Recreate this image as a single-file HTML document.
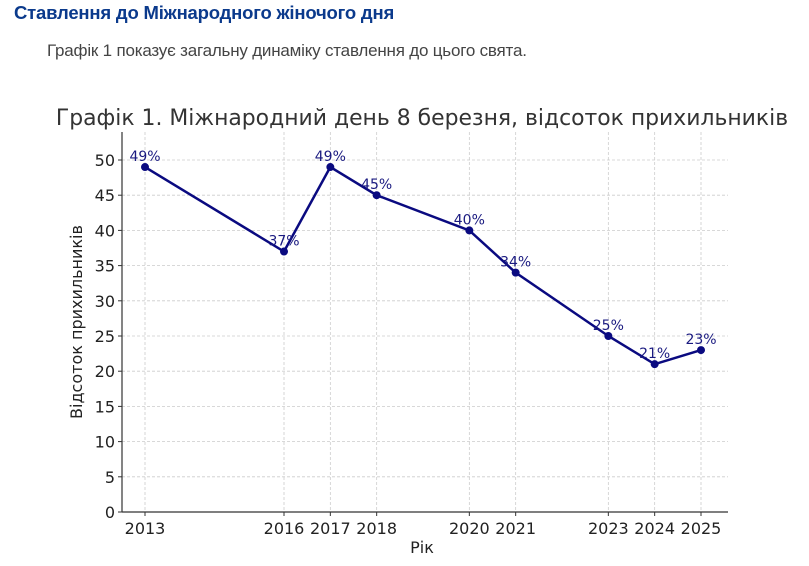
<!DOCTYPE html>
<html><head><meta charset="utf-8"><style>
body{margin:0;background:#fff;width:809px;height:566px;overflow:hidden;position:relative}
h2{position:absolute;left:14px;top:2px;margin:0;font:bold 18.5px "Liberation Sans",sans-serif;color:#0b3a8c;letter-spacing:-0.2px}
p{position:absolute;left:47px;top:41px;margin:0;font:17px "Liberation Sans",sans-serif;color:#444;letter-spacing:-0.2px}
svg{position:absolute;left:0;top:0}
</style></head><body>
<h2>Ставлення до Міжнародного жіночого дня</h2>
<p>Графік 1 показує загальну динаміку ставлення до цього свята.</p>
<svg id="c" width="809" height="566" font-family="DejaVu Sans, sans-serif"></svg>
<script>
const years=[2013,2016,2017,2018,2020,2021,2023,2024,2025];
const values=[49,37,49,45,40,34,25,21,23];
const yTicks=[0,5,10,15,20,25,30,35,40,45,50];
const L=122,R=728,T=132,B=512;
const x=v=>145+(v-2013)*(701-145)/12;
const y=v=>B-v*(B-160)/50;
const s=document.getElementById('c');const N='http://www.w3.org/2000/svg';
function mk(t,a,txt){const e=document.createElementNS(N,t);for(const k in a)e.setAttribute(k,a[k]);if(txt!=null)e.textContent=txt;s.appendChild(e);return e;}
let e;
e=mk('text',{x:422,y:125,'text-anchor':'middle','font-size':21.9,fill:'#333'},'Графік 1. Міжнародний день 8 березня, відсоток прихильників');


yTicks.forEach(t=>{
e=mk('line',{x1:L,x2:R,y1:y(t),y2:y(t),stroke:'#ccc','stroke-dasharray':'3,2','stroke-width':0.8});


mk('line',{x1:L-4,x2:L,y1:y(t),y2:y(t),stroke:'#333'});
e=mk('text',{x:L-7,y:y(t)+6,'text-anchor':'end','font-size':16,fill:'#222'},t);


});
years.forEach(yr=>{
e=mk('line',{x1:x(yr),x2:x(yr),y1:T,y2:B,stroke:'#ccc','stroke-dasharray':'3,2','stroke-width':0.8});


mk('line',{x1:x(yr),x2:x(yr),y1:B,y2:B+4,stroke:'#333'});
e=mk('text',{x:x(yr),y:B+22,'text-anchor':'middle','font-size':16,fill:'#222'},yr);


});
mk('line',{x1:L,x2:L,y1:T,y2:B,stroke:'#333','stroke-width':1.2});
mk('line',{x1:L,x2:R,y1:B,y2:B,stroke:'#333','stroke-width':1.2});
e=mk('text',{x:422,y:553,'text-anchor':'middle','font-size':16,fill:'#222'},'Рік');


e=mk('text',{x:0,y:0,'text-anchor':'middle','font-size':16,fill:'#222',transform:'translate(82,322) rotate(-90)'},'Відсоток прихильників');


e=mk('polyline',{points:years.map((yr,i)=>x(yr)+','+y(values[i])).join(' '),fill:'none',stroke:'#0a0a80','stroke-width':2.5});


years.forEach((yr,i)=>{
e=mk('circle',{cx:x(yr),cy:y(values[i]),r:4,fill:'#0a0a80'});


e=mk('text',{x:x(yr),y:y(values[i])-6,'text-anchor':'middle','font-size':14,fill:'#1a1a80'},values[i]+'%');


});
</script>
</body></html>
